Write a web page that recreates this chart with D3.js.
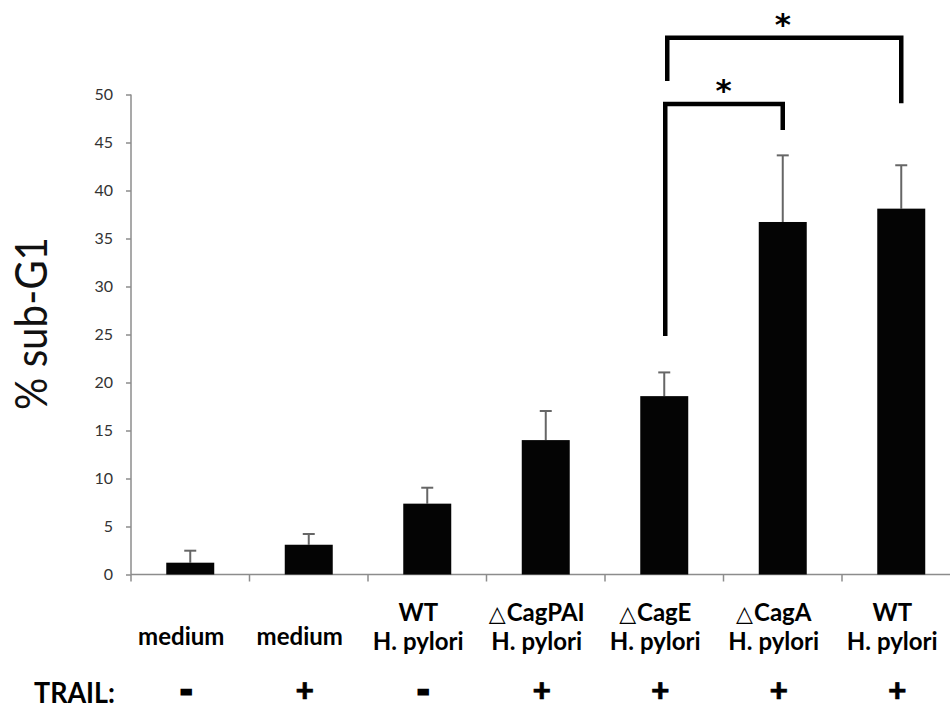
<!DOCTYPE html>
<html>
<head>
<meta charset="utf-8">
<script src="https://cdn.jsdelivr.net/npm/d3@7/dist/d3.min.js"></script>
<style>
  html, body { margin: 0; padding: 0; background: #fff; }
  svg { display: block; }
</style>
</head>
<body>
<svg id="chart" width="950" height="709"></svg>
<script>
// ---- data ----
const labelTop = ["", "", "WT", "CagPAI", "CagE", "CagA", "WT"];
const labelTopDelta = [false, false, false, true, true, true, false];
const labelBottom = ["medium", "medium", "H. pylori", "H. pylori", "H. pylori", "H. pylori", "H. pylori"];
const means = [1.23, 3.10, 7.38, 14.0, 18.58, 36.72, 38.11];
const errUp = [1.25, 1.12, 1.66, 3.03, 2.47, 6.94, 4.52];
const trail = ["-", "+", "-", "+", "+", "+", "+"];
const yTicks = [0, 5, 10, 15, 20, 25, 30, 35, 40, 45, 50];
const yTitle = "% sub-G1";
const trailLabel = "TRAIL:";
// significance brackets: from/to category index, end heights and top in data units
const bracketFrom = [4, 4];
const bracketTo = [5, 6];
const bracketLeftEnd = [24.84, 51.4];
const bracketRightEnd = [46.3, 49.1];
const bracketTop = [49.0, 55.9];
const bracketLabel = ["*", "*"];

// ---- layout ----
const svg = d3.select("#chart");
const idx = d3.range(means.length);
const x = d3.scaleBand().domain(idx).range([131, 960.5]).padding(0);
const y = d3.scaleLinear().domain([0, 50]).range([574.5, 94.5]);
const barW = x.bandwidth() * 0.405;
const cx = i => x(i) + x.bandwidth() / 2;
const font = "Lato, 'Open Sans', 'DejaVu Sans', sans-serif";

// y axis
const yAxis = svg.append("g")
  .attr("transform", "translate(131,0)")
  .call(d3.axisLeft(y).tickValues(yTicks).tickSize(5).tickPadding(13).tickFormat(d3.format("d")));
yAxis.select(".domain").attr("stroke", "#8c8c8c").attr("stroke-width", 1.5)
  .attr("d", `M0,${y(50)}V${y(0)}`);
yAxis.selectAll(".tick line").attr("stroke", "#8c8c8c").attr("stroke-width", 1.5);
yAxis.selectAll(".tick text").attr("font-family", font).attr("font-size", 16).attr("fill", "#333");

// x axis line and category-boundary ticks
svg.append("line")
  .attr("x1", x.range()[0]).attr("x2", x.range()[1])
  .attr("y1", y(0)).attr("y2", y(0))
  .attr("stroke", "#8c8c8c").attr("stroke-width", 1.5);
svg.append("g").selectAll("line")
  .data(idx.concat([means.length]))
  .join("line")
  .attr("x1", d => d < means.length ? x(d) : x.range()[1])
  .attr("x2", d => d < means.length ? x(d) : x.range()[1])
  .attr("y1", y(0)).attr("y2", y(0) + 7)
  .attr("stroke", "#8c8c8c").attr("stroke-width", 1.5);

// error bars (upper only)
const eb = svg.append("g").attr("stroke", "#666").attr("stroke-width", 2);
eb.selectAll("line.v").data(idx).join("line").attr("class", "v")
  .attr("x1", cx).attr("x2", cx)
  .attr("y1", i => y(means[i])).attr("y2", i => y(means[i] + errUp[i]));
eb.selectAll("line.c").data(idx).join("line").attr("class", "c")
  .attr("x1", i => cx(i) - 6).attr("x2", i => cx(i) + 6)
  .attr("y1", i => y(means[i] + errUp[i])).attr("y2", i => y(means[i] + errUp[i]));

// bars
svg.append("g").selectAll("rect").data(idx).join("rect")
  .attr("x", i => cx(i) - barW / 2)
  .attr("width", barW)
  .attr("y", i => y(means[i]))
  .attr("height", i => y(0) - y(means[i]))
  .attr("fill", "#040404");

// brackets
const bidx = d3.range(bracketFrom.length);
svg.append("g").selectAll("path").data(bidx).join("path")
  .attr("d", b => {
    const x1 = cx(bracketFrom[b]) + (b === 1 ? 3 : 1);
    const x2 = cx(bracketTo[b]);
    return `M${x1},${y(bracketLeftEnd[b])}V${y(bracketTop[b])}H${x2}V${y(bracketRightEnd[b])}`;
  })
  .attr("fill", "none").attr("stroke", "#000").attr("stroke-width", 4.5)
  .attr("stroke-linejoin", "miter");
svg.append("g").selectAll("text").data(bidx).join("text")
  .attr("x", b => (cx(bracketFrom[b]) + cx(bracketTo[b])) / 2)
  .attr("y", b => y(bracketTop[b]) - 3)
  .attr("text-anchor", "middle")
  .attr("font-family", "'DejaVu Sans', sans-serif")
  .attr("font-weight", "bold")
  .attr("font-size", 31)
  .text(b => bracketLabel[b]);

// y title
svg.append("text")
  .attr("transform", `translate(47,${323.5}) rotate(-90)`)
  .attr("text-anchor", "middle")
  .attr("font-family", font)
  .attr("font-size", 44)
  .attr("fill", "#111")
  .attr("textLength", 173)
  .attr("lengthAdjust", "spacingAndGlyphs")
  .text(yTitle);

// x category labels
const lab = svg.append("g")
  .attr("font-family", font).attr("font-weight", "bold").attr("font-size", 24)
  .attr("text-anchor", "middle").attr("fill", "#000");
idx.forEach(i => {
  const lx = cx(i) - 9;
  if (labelTop[i]) {
    const t = lab.append("text").attr("x", lx).attr("y", 621);
    if (labelTopDelta[i]) {
      t.append("tspan").attr("font-family", "'DejaVu Sans', sans-serif")
        .attr("font-weight", "normal").attr("font-size", 22).text("\u25B3");
      t.append("tspan").attr("dx", 1).text(labelTop[i]);
    } else {
      t.append("tspan").text(labelTop[i]);
    }
    lab.append("text").attr("x", lx).attr("y", 650).text(labelBottom[i]);
  } else {
    lab.append("text").attr("x", lx).attr("y", 645).text(labelBottom[i]);
  }
});

// TRAIL row
svg.append("text")
  .attr("x", 34).attr("y", 703)
  .attr("font-family", font).attr("font-weight", "bold").attr("font-size", 29)
  .attr("textLength", 81).attr("lengthAdjust", "spacingAndGlyphs")
  .text(trailLabel);
svg.append("g").selectAll("text").data(idx).join("text")
  .attr("x", i => cx(i) - 4)
  .attr("y", 702)
  .attr("text-anchor", "middle")
  .attr("font-family", font).attr("font-weight", "900")
  .attr("font-size", 32)
  .attr("stroke", "#000")
  .attr("stroke-width", i => trail[i] === "-" ? 3 : 0.6)
  .text(i => trail[i]);
</script>
</body>
</html>
